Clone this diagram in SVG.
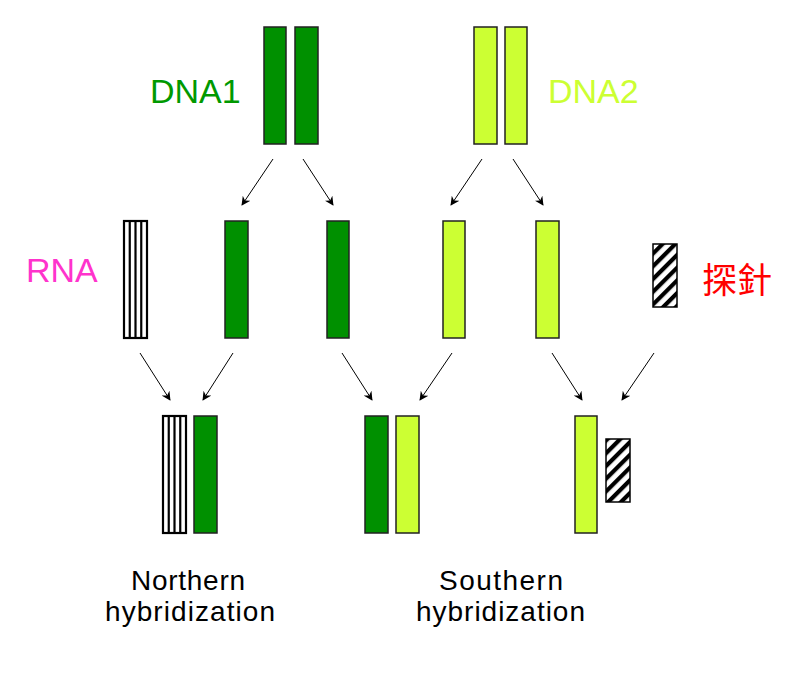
<svg xmlns="http://www.w3.org/2000/svg" width="788" height="673" viewBox="0 0 788 673">
<defs>
<style>
.dg{fill:#009000;stroke:#222;stroke-width:1.5}
.lg{fill:#CCFF33;stroke:#222;stroke-width:1.5}
.rna{fill:#fff;stroke:#000;stroke-width:2.2}
.rl{stroke:#000;stroke-width:2.2}
.pr{fill:url(#hatch);stroke:#000;stroke-width:1.5}
.arr{stroke:#000;stroke-width:1;fill:none;marker-end:url(#ah)}
.lbl{font-family:"Liberation Sans",Arial,sans-serif;font-size:34px}
.cap{font-family:"Liberation Sans",Arial,sans-serif;font-size:28px;fill:#000}
</style>
<marker id="ah" viewBox="0 0 10 10" refX="9" refY="5" markerWidth="10" markerHeight="9" markerUnits="userSpaceOnUse" orient="auto">
<path d="M0,0 L10,5 L0,10 L3,5 Z" fill="#000"/>
</marker>
<pattern id="hatch" patternUnits="userSpaceOnUse" width="9" height="9" patternTransform="rotate(-45)">
<rect x="0" y="0" width="9" height="9" fill="#fff"/>
<rect x="0" y="0" width="9" height="4.2" fill="#000"/>
</pattern>
</defs>

<g id="dna1">
<rect class="dg" x="264" y="27" width="22" height="117"/>
<rect class="dg" x="295" y="27" width="23" height="117"/>
<text class="lbl" x="150" y="103" fill="#009900">DNA1</text>
</g>
<g id="dna2">
<rect class="lg" x="474" y="27" width="23" height="117"/>
<rect class="lg" x="505" y="27" width="22" height="117"/>
<text class="lbl" x="548" y="103" fill="#CCFF33">DNA2</text>
</g>

<g id="rna">
<rect class="rna" x="124" y="221" width="23" height="117"/>
<line class="rl" x1="129.75" y1="221" x2="129.75" y2="338"/>
<line class="rl" x1="135.5" y1="221" x2="135.5" y2="338"/>
<line class="rl" x1="141.25" y1="221" x2="141.25" y2="338"/>
<text class="lbl" x="26" y="282" fill="#FF33CC">RNA</text>
</g>
<g id="dna1-strand-a"><rect class="dg" x="225" y="221" width="23" height="117"/></g>
<g id="dna1-strand-b"><rect class="dg" x="327" y="221" width="22" height="117"/></g>
<g id="dna2-strand-a"><rect class="lg" x="443" y="221" width="22" height="117"/></g>
<g id="dna2-strand-b"><rect class="lg" x="536" y="221" width="23" height="117"/></g>
<g id="probe">
<rect class="pr" x="653" y="244" width="24" height="63"/>
<text x="702" y="293" font-family="'Noto Sans CJK TC','Noto Sans CJK SC',sans-serif" font-size="35" fill="#FF0000">探針</text>
</g>

<g id="northern">
<rect class="rna" x="163" y="416" width="23" height="117"/>
<line class="rl" x1="168.75" y1="416" x2="168.75" y2="533"/>
<line class="rl" x1="174.5" y1="416" x2="174.5" y2="533"/>
<line class="rl" x1="180.25" y1="416" x2="180.25" y2="533"/>
<rect class="dg" x="194" y="416" width="23" height="117"/>
<text class="cap" x="131" y="590" textLength="114" lengthAdjust="spacing">Northern</text>
<text class="cap" x="105" y="621" textLength="170" lengthAdjust="spacing">hybridization</text>
</g>
<g id="southern">
<rect class="dg" x="365" y="416" width="23" height="117"/>
<rect class="lg" x="396" y="416" width="23" height="117"/>
<text class="cap" x="439" y="590" textLength="124" lengthAdjust="spacing">Southern</text>
<text class="cap" x="416" y="621" textLength="169" lengthAdjust="spacing">hybridization</text>
</g>
<g id="probe-hybrid">
<rect class="lg" x="575" y="416" width="22" height="117"/>
<rect class="pr" x="606" y="439" width="24" height="63"/>
</g>

<g id="connectors">
<line class="arr" x1="273" y1="159" x2="242" y2="205"/>
<line class="arr" x1="303" y1="159" x2="333" y2="205"/>
<line class="arr" x1="482" y1="159" x2="451" y2="205"/>
<line class="arr" x1="513" y1="159" x2="543" y2="205"/>
<line class="arr" x1="140" y1="353" x2="170" y2="400"/>
<line class="arr" x1="233" y1="353" x2="203" y2="400"/>
<line class="arr" x1="342" y1="353" x2="372" y2="400"/>
<line class="arr" x1="452" y1="353" x2="420" y2="400"/>
<line class="arr" x1="552" y1="353" x2="582" y2="400"/>
<line class="arr" x1="654" y1="353" x2="622" y2="400"/>
</g>
</svg>
